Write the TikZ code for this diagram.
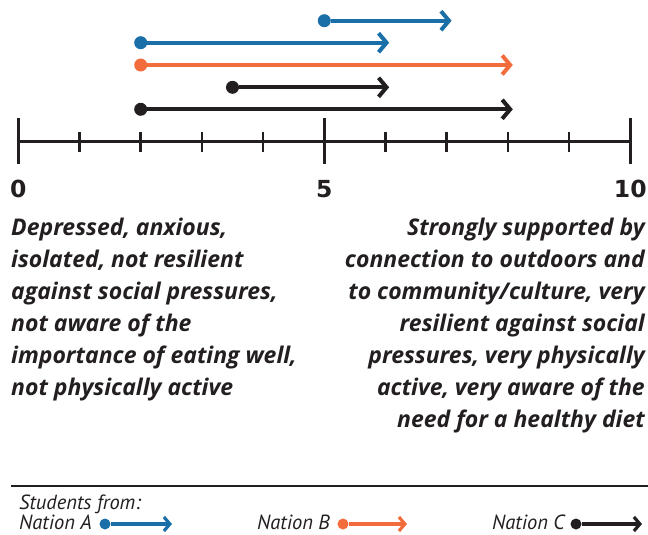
\documentclass[tikz,border=0pt]{standalone}
\usepackage{fontspec}
\setmainfont{PT Sans}
\newfontfamily\descfont{Open Sans}
\newfontfamily\numfont{DejaVu Sans}
\usetikzlibrary{arrows.meta,positioning}
\definecolor{nationA}{RGB}{27,111,168}
\definecolor{nationB}{RGB}{242,108,60}
\definecolor{nationC}{RGB}{35,31,32}

\begin{document}
\begin{tikzpicture}[x=1pt,y=-1pt,
		startdot/.style={circle, fill=#1, inner sep=0pt, minimum size=13pt},
		rangearrow/.style={draw=#1, line width=4pt, -{Straight Barb[length=8pt,width=19pt,line width=4pt]}},
		smalldot/.style={circle, fill=#1, inner sep=0pt, minimum size=11pt},
		smallarrow/.style={draw=#1, line width=3.2pt, -{Straight Barb[length=6pt,width=14pt,line width=3.2pt]}},
		axisline/.style={draw=nationC, line width=2.6pt},
		tickmark/.style={draw=nationC, line width=2.6pt},
		numlabel/.style={anchor=base, inner sep=0pt, text=nationC, font=\numfont\fontsize{23.5}{23.5}\selectfont\bfseries},
		desc/.style={inner sep=0pt, text=nationC, font=\descfont\fontsize{23}{32}\selectfont\bfseries\itshape},
		legend/.style={anchor=base west, inner sep=0pt, text depth=0pt, text=nationC, font=\fontsize{20.5}{20.5}\selectfont\itshape}]
	\useasboundingbox (0,0) rectangle (648,535);

	% scale from 0 to 10
	\begin{scope}[xshift=18.3pt, x=61.2pt]
		\draw[axisline] (0,141.7) -- (10,141.7);
		\foreach \i in {1,2,3,4,6,7,8,9}
			\draw[tickmark] (\i,131.7) -- (\i,151.7);
		\foreach \i in {0,5,10} {
			\draw[tickmark] (\i,118) -- (\i,164);
			\node[numlabel] (num\i) at (\i,197) {\i};
		}

		% ranges
		\node[startdot=nationA] (a1) at (5,20.7) {};
		\coordinate (a1end) at (7.08,20.7);
		\node[startdot=nationA] (a2) at (2,42.7) {};
		\coordinate (a2end) at (6.06,42.7);
		\node[startdot=nationB] (b1) at (2,65) {};
		\coordinate (b1end) at (8.08,65);
		\node[startdot=nationC] (c1) at (3.5,87.3) {};
		\coordinate (c1end) at (6.06,87.3);
		\node[startdot=nationC] (c2) at (2,109.3) {};
		\coordinate (c2end) at (8.08,109.3);

		\draw[rangearrow=nationA] (a1) -- (a1end);
		\draw[rangearrow=nationA] (a2) -- (a2end);
		\draw[rangearrow=nationB] (b1) -- (b1end);
		\draw[rangearrow=nationC] (c1) -- (c1end);
		\draw[rangearrow=nationC] (c2) -- (c2end);
	\end{scope}

	% ends of the scale
	\node[desc, anchor=north west, align=left] (low) at (11,218)
		{Depressed, anxious,\\ isolated, not resilient\\ against social pressures,\\ not aware of the\\ importance of eating well,\\ not physically active};
	\node[desc, anchor=north east, align=right] (high) at (645,218)
		{Strongly supported by\\ connection to outdoors and\\ to community/culture, very\\ resilient against social\\ pressures, very physically\\ active, very aware of the\\ need for a healthy diet};

	% legend
	\coordinate (rulestart) at (11,486);
	\coordinate (ruleend) at (648,486);
	\draw[nationC, line width=1.4pt] (rulestart) -- (ruleend);
	\node[legend] (students) at (19,509.5) {Students from:};
	\node[legend] (natA) at (19,529) {Nation A};
	\node[legend] (natB) at (257,529) {Nation B};
	\node[legend] (natC) at (492,529) {Nation C};

	\node[smalldot=nationA] (la) at (105,524) {};
	\coordinate (laend) at (172,524);
	\node[smalldot=nationB] (lb) at (343,524) {};
	\coordinate (lbend) at (407,524);
	\node[smalldot=nationC] (lc) at (576,524) {};
	\coordinate (lcend) at (642,524);
	\draw[smallarrow=nationA] (la) -- (laend);
	\draw[smallarrow=nationB] (lb) -- (lbend);
	\draw[smallarrow=nationC] (lc) -- (lcend);
\end{tikzpicture}
\end{document}
